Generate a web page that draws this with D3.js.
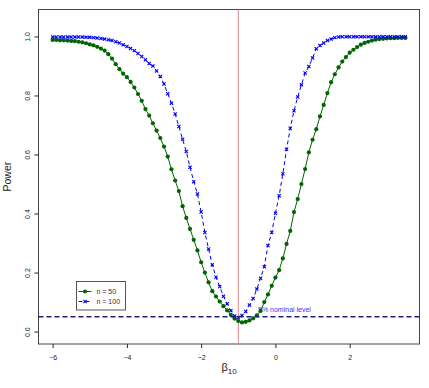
<!DOCTYPE html>
<html>
<head>
<meta charset="utf-8">
<script src="https://cdn.jsdelivr.net/npm/d3@7"></script>
<style>
    body { margin: 0; background: #fff; }
    svg { display: block; font-family: "Liberation Sans", Arial, sans-serif; }
    .axis path, .axis line { stroke: #222; }
    .axis text { fill: #222; font-size: 7px; }
</style>
</head>
<body>
<div id="container"></div>
<script>
"use strict";

const WIDTH = 429;
const HEIGHT = 388;

// beta_10 grid, -6 to 3.5 by 0.1
const BETA = d3.range(96).map(i => Math.round((-6 + i * 0.1) * 10) / 10);

const POWER_N50 = [
    0.988, 0.988, 0.987, 0.987, 0.986, 0.985, 0.984, 0.982, 0.980, 0.977,
    0.973, 0.970, 0.965, 0.959, 0.952, 0.940, 0.925, 0.906, 0.889, 0.874,
    0.862, 0.846, 0.827, 0.805, 0.782, 0.754, 0.732, 0.706, 0.681, 0.656,
    0.627, 0.593, 0.550, 0.512, 0.476, 0.425, 0.385, 0.348, 0.311, 0.275,
    0.235, 0.200, 0.167, 0.137, 0.119, 0.102, 0.086, 0.072, 0.057, 0.044,
    0.036, 0.031, 0.033, 0.038, 0.045, 0.055, 0.070, 0.100, 0.126, 0.155,
    0.183, 0.208, 0.248, 0.297, 0.341, 0.405, 0.449, 0.500, 0.551, 0.607,
    0.650, 0.686, 0.729, 0.768, 0.808, 0.845, 0.872, 0.895, 0.915, 0.930,
    0.945, 0.955, 0.964, 0.972, 0.978, 0.982, 0.986, 0.989, 0.991, 0.992,
    0.993, 0.994, 0.994, 0.995, 0.995, 0.995
];

const POWER_N100 = [
    0.998, 0.998, 0.998, 0.998, 0.998, 0.998, 0.998, 0.998, 0.998, 0.997,
    0.997, 0.996, 0.995, 0.993, 0.991, 0.989, 0.986, 0.982, 0.978, 0.972,
    0.966, 0.959, 0.952, 0.942, 0.932, 0.921, 0.908, 0.900, 0.883, 0.864,
    0.839, 0.806, 0.774, 0.737, 0.695, 0.652, 0.610, 0.557, 0.508, 0.466,
    0.405, 0.336, 0.280, 0.226, 0.184, 0.153, 0.120, 0.094, 0.071, 0.053,
    0.048, 0.055, 0.068, 0.090, 0.112, 0.144, 0.181, 0.220, 0.292, 0.336,
    0.401, 0.460, 0.535, 0.618, 0.689, 0.748, 0.795, 0.836, 0.876, 0.898,
    0.927, 0.958, 0.969, 0.978, 0.986, 0.991, 0.996, 0.998, 0.999, 0.999,
    0.999, 0.999, 0.999, 0.999, 0.999, 0.999, 0.999, 0.999, 0.999, 0.999,
    0.999, 0.999, 0.999, 0.999, 0.999, 0.999
];

const X_TICKS = [-6, -4, -2, 0, 2];
const Y_TICKS = [0.0, 0.2, 0.4, 0.6, 0.8, 1.0];
const LEGEND_LABELS = ["n = 50", "n = 100"];
const TRUE_BETA = -1;
const NOMINAL = 0.05;
const NOMINAL_LABEL = "5% nominal level";

const SVG = d3.select("#container").append("svg")
    .attr("width", WIDTH)
    .attr("height", HEIGHT);

const xScale = d3.scaleLinear().domain([-6.38, 3.88]).range([38.5, 419.5]);
const yScale = d3.scaleLinear().domain([-0.042, 1.092]).range([344, 9.3]);

// axes
SVG.append("g")
    .attr("class", "axis")
    .attr("transform", "translate(0,344)")
    .call(d3.axisBottom(xScale).tickValues(X_TICKS).tickSize(4).tickPadding(6))
    .call(g => g.select(".domain").remove())
    .call(g => g.selectAll("text").attr("dy", "0.9em"));

SVG.append("g")
    .attr("class", "axis")
    .attr("transform", "translate(38.5,0)")
    .call(d3.axisLeft(yScale).tickValues(Y_TICKS).tickSize(4).tickFormat(d3.format(".1f")))
    .call(g => g.select(".domain").remove())
    .call(g => g.selectAll("text")
        .attr("x", 0).attr("y", 0).attr("dy", 0)
        .attr("text-anchor", "middle")
        .attr("transform", "translate(-9,0) rotate(-90)"));

// box
SVG.append("rect")
    .attr("x", 38.5).attr("y", 9.5)
    .attr("width", 381).attr("height", 334.5)
    .attr("fill", "none")
    .attr("stroke", "#444");

// axis titles
SVG.append("text")
    .attr("transform", `translate(11,${(9.3 + 344) / 2}) rotate(-90)`)
    .attr("text-anchor", "middle")
    .attr("font-size", 10.5)
    .attr("fill", "#222")
    .text("Power");

const xlab = SVG.append("text")
    .attr("x", 229).attr("y", 371)
    .attr("text-anchor", "middle")
    .attr("fill", "#222")
    .attr("font-size", 11);
xlab.append("tspan").text("β");
xlab.append("tspan").attr("font-size", 8).attr("dy", 3).text("10");

// reference lines
SVG.append("line")
    .attr("x1", xScale(TRUE_BETA)).attr("x2", xScale(TRUE_BETA))
    .attr("y1", 9.5).attr("y2", 344)
    .attr("stroke", "#e08585")
    .attr("stroke-width", 1);

SVG.append("text")
    .attr("x", 258).attr("y", 311.5)
    .attr("font-size", 7)
    .attr("fill", "#3a3af0")
    .text(NOMINAL_LABEL);

const data50 = BETA.map((b, i) => ({ b: b, p: POWER_N50[i] }));
const data100 = BETA.map((b, i) => ({ b: b, p: POWER_N100[i] }));

const line = d3.line()
    .x(d => xScale(d.b))
    .y(d => yScale(d.p));

SVG.append("path")
    .attr("d", line(data50))
    .attr("fill", "none")
    .attr("stroke", "#006400")
    .attr("stroke-width", 1);

SVG.selectAll("circle.n50")
    .data(data50)
    .enter().append("circle")
    .attr("class", "n50")
    .attr("cx", d => xScale(d.b))
    .attr("cy", d => yScale(d.p))
    .attr("r", 2.1)
    .attr("fill", "#006400");

SVG.append("path")
    .attr("d", line(data100))
    .attr("fill", "none")
    .attr("stroke", "#0000ff")
    .attr("stroke-width", 1)
    .attr("stroke-dasharray", "4,3");

function cross(sel, size) {
    sel.append("line")
        .attr("x1", -size).attr("y1", -size).attr("x2", size).attr("y2", size);
    sel.append("line")
        .attr("x1", -size).attr("y1", size).attr("x2", size).attr("y2", -size);
}

SVG.selectAll("g.n100")
    .data(data100)
    .enter().append("g")
    .attr("class", "n100")
    .attr("transform", d => `translate(${xScale(d.b)},${yScale(d.p)})`)
    .attr("stroke", "#0000ff")
    .attr("stroke-width", 1.1)
    .call(cross, 1.6);

SVG.append("line")
    .attr("x1", 38.5).attr("x2", 419.5)
    .attr("y1", yScale(NOMINAL)).attr("y2", yScale(NOMINAL))
    .attr("stroke", "#1c1c78")
    .attr("stroke-width", 1.5)
    .attr("stroke-dasharray", "5,3");

// legend
const legend = SVG.append("g").attr("transform", "translate(76.5,281.5)");
legend.append("rect")
    .attr("width", 49).attr("height", 28.5)
    .attr("fill", "#fff")
    .attr("stroke", "#555");

const colours = ["#006400", "#0000ff"];
LEGEND_LABELS.forEach(function (label, i) {
    const row = legend.append("g").attr("transform", `translate(0,${10 + i * 10})`);
    row.append("line")
        .attr("x1", 2).attr("x2", 15)
        .attr("stroke", colours[i])
        .attr("stroke-dasharray", i === 1 ? "4,3" : null);
    if (i === 0) {
        row.append("circle").attr("cx", 8.5).attr("r", 2.1).attr("fill", colours[i]);
    } else {
        row.append("g").attr("transform", "translate(8.5,0)")
            .attr("stroke", colours[i]).attr("stroke-width", 1.1)
            .call(cross, 1.6);
    }
    row.append("text")
        .attr("x", 20).attr("dy", "0.35em")
        .attr("font-size", 7)
        .attr("fill", "#333")
        .text(label);
});
</script>
</body>
</html>
